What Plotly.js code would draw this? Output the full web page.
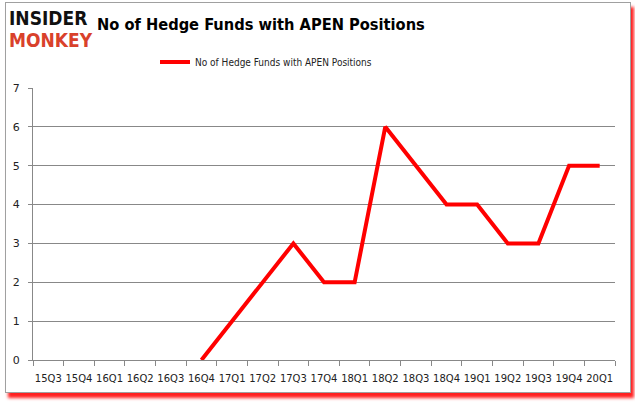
<!DOCTYPE html>
<html>
<head>
<meta charset="utf-8">
<script src="https://cdn.plot.ly/plotly-3.0.1.min.js"></script>
<style>
html,body{margin:0;padding:0;background:#fff;}
#frame{position:absolute;left:5px;top:2px;width:624px;height:389px;border:1px solid #a0a0a0;box-shadow:3px 5px 3px #ff2020;background:#fff;}
#chart{position:absolute;left:0;top:0;width:635px;height:405px;}
</style>
</head>
<body>
<div id="frame"></div>
<div id="chart"></div>
<script>
var quarters = ["15Q3","15Q4","16Q1","16Q2","16Q3","16Q4","17Q1","17Q2","17Q3","17Q4","18Q1","18Q2","18Q3","18Q4","19Q1","19Q2","19Q3","19Q4","20Q1"];
var funds = [null,null,null,null,null,0,1,2,3,2,2,6,5,4,4,3,3,5,5];
var seriesName = "No of Hedge Funds with APEN Positions";
var yTicks = [0,1,2,3,4,5,6,7];

var trace = {
  x: quarters, y: funds, type: "scatter", mode: "lines", name: seriesName,
  line: {color: "#ff0000", width: 4}, connectgaps: false
};
var px = function (v) { return (v - 33) / 582; };
var py = function (v) { return (360 - v) / 272; };
var layout = {
  width: 635, height: 405,
  paper_bgcolor: "rgba(0,0,0,0)", plot_bgcolor: "rgba(0,0,0,0)",
  margin: {l: 33, r: 20, t: 88, b: 45},
  showlegend: true,
  legend: {orientation: "h", x: px(155), xanchor: "left", y: py(62), yanchor: "middle",
    font: {family: "DejaVu Sans Condensed, sans-serif", size: 10, color: "#222"}, itemwidth: 30},
  xaxis: {type: "category", tickson: "boundaries", ticks: "outside", ticklen: 5, tickcolor: "#888",
    showline: true, linecolor: "#888", linewidth: 1, showgrid: false, ticklabelstandoff: 9,
    tickfont: {family: "DejaVu Sans, Verdana, sans-serif", size: 10, color: "#222"},
    tickangle: 0, range: [-0.5, 18.5]},
  yaxis: {range: [0, 7], tickvals: yTicks, ticks: "outside", ticklen: 4, tickcolor: "#888",
    showline: true, linecolor: "#888", linewidth: 1, gridcolor: "#888", gridwidth: 1,
    zeroline: false, ticklabelstandoff: 6,
    tickfont: {family: "DejaVu Sans, Verdana, sans-serif", size: 11, color: "#222"}},
  annotations: [
    {text: "<b>No of Hedge Funds with APEN Positions</b>", xref: "paper", yref: "paper",
     x: px(261), y: py(25), xanchor: "center", yanchor: "middle", showarrow: false,
     font: {family: "DejaVu Sans Condensed, sans-serif", size: 16.3, color: "#000"}},
    {text: "<b>INSIDER</b>", xref: "paper", yref: "paper",
     x: px(7), y: py(18), xanchor: "left", yanchor: "middle", showarrow: false,
     font: {family: "DejaVu Sans Condensed, sans-serif", size: 19, color: "#111"}},
    {text: "<b>MONKEY</b>", xref: "paper", yref: "paper",
     x: px(7), y: py(40), xanchor: "left", yanchor: "middle", showarrow: false,
     font: {family: "DejaVu Sans Condensed, sans-serif", size: 19, color: "#d9412b"}}
  ]
};
Plotly.newPlot("chart", [trace], layout, {displayModeBar: false, staticPlot: true});
</script>
</body>
</html>
